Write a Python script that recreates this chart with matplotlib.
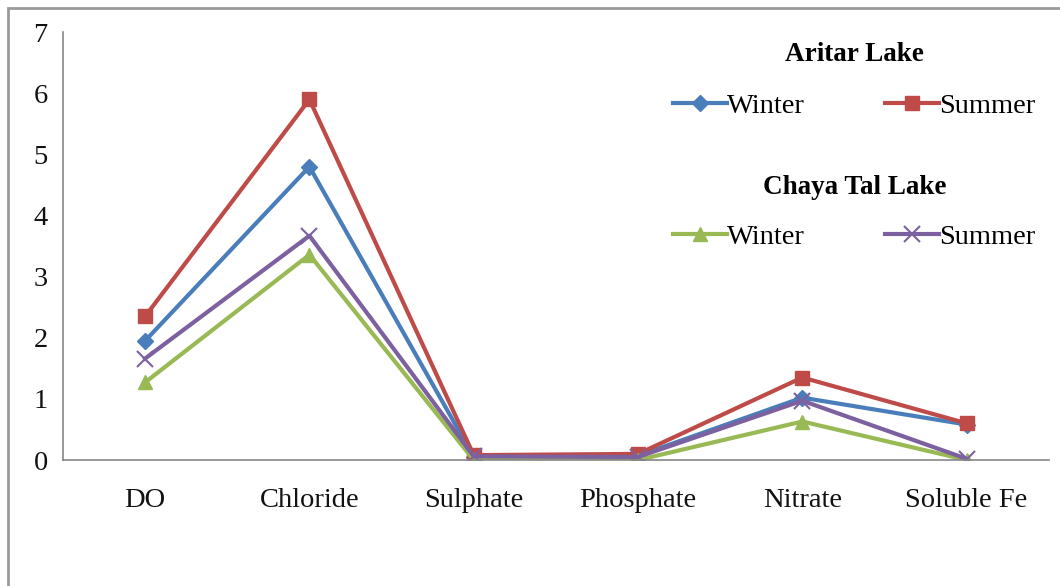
import matplotlib
matplotlib.use("Agg")
import matplotlib.pyplot as plt
from matplotlib.patches import Rectangle

plt.rcParams["font.family"] = ["Liberation Serif", "DejaVu Serif"]

categories = ["DO", "Chloride", "Sulphate", "Phosphate", "Nitrate", "Soluble Fe"]
aritar_winter = [1.95, 4.8, 0.05, 0.07, 1.02, 0.58]
aritar_summer = [2.35, 5.9, 0.08, 0.1, 1.35, 0.6]
chaya_winter = [1.27, 3.36, 0.0, 0.0, 0.63, 0.0]
chaya_summer = [1.66, 3.67, 0.06, 0.05, 0.97, 0.02]
yticks = [0, 1, 2, 3, 4, 5, 6, 7]

BLUE, RED, GREEN, PURPLE = "#4A7EBB", "#BE4B48", "#98B954", "#7D60A0"
GRID = "#868686"
FS = 20.5

fig = plt.figure(figsize=(10.6, 5.86), dpi=100)
ax = fig.add_axes([0.0594, 0.215, 0.93, 0.730])
x = range(len(categories))

l_aw, = ax.plot(x, aritar_winter, color=BLUE, lw=3, marker="D", ms=8, label="Winter")
l_as, = ax.plot(x, aritar_summer, color=RED, lw=3, marker="s", ms=10, label="Summer")
l_cw, = ax.plot(x, chaya_winter, color=GREEN, lw=3, marker="^", ms=10, label="Winter")
l_cs, = ax.plot(x, chaya_summer, color=PURPLE, lw=3, marker="x", ms=11, mew=1.5, label="Summer")

ax.set_xlim(-0.5, len(categories) - 0.5)
ax.set_ylim(0, 7)
ax.set_yticks(yticks)
ax.set_xticks(list(x))
ax.set_xticklabels(categories)
ax.tick_params(axis="both", length=0, labelsize=FS, colors="#111111")
ax.tick_params(axis="y", pad=11)
ax.tick_params(axis="x", pad=20)
for s in ("top", "right"):
    ax.spines[s].set_visible(False)
for s in ("left", "bottom"):
    ax.spines[s].set_color(GRID)
    ax.spines[s].set_linewidth(1.2)

leg_kw = dict(ncol=2, frameon=False, fontsize=FS, loc="upper center",
              handlelength=1.9, handletextpad=0.0, columnspacing=2.8)
leg1 = fig.legend(handles=[l_aw, l_as], title="Aritar Lake",
                  title_fontproperties={"weight": "bold", "size": FS - 1},
                  bbox_to_anchor=(0.806, 0.972), **leg_kw)
leg1._legend_box.sep = 19
leg2 = fig.legend(handles=[l_cw, l_cs], title="Chaya Tal Lake",
                  title_fontproperties={"weight": "bold", "size": FS - 1},
                  bbox_to_anchor=(0.806, 0.745), **leg_kw)
leg2._legend_box.sep = 17

fig.patches.append(Rectangle((8 / 1060, -0.1), 1.2, 1 - 8 / 586 + 0.1,
                             transform=fig.transFigure, fill=False,
                             edgecolor="#9a9a9a", lw=2))

fig.savefig("out.png", dpi=100)
